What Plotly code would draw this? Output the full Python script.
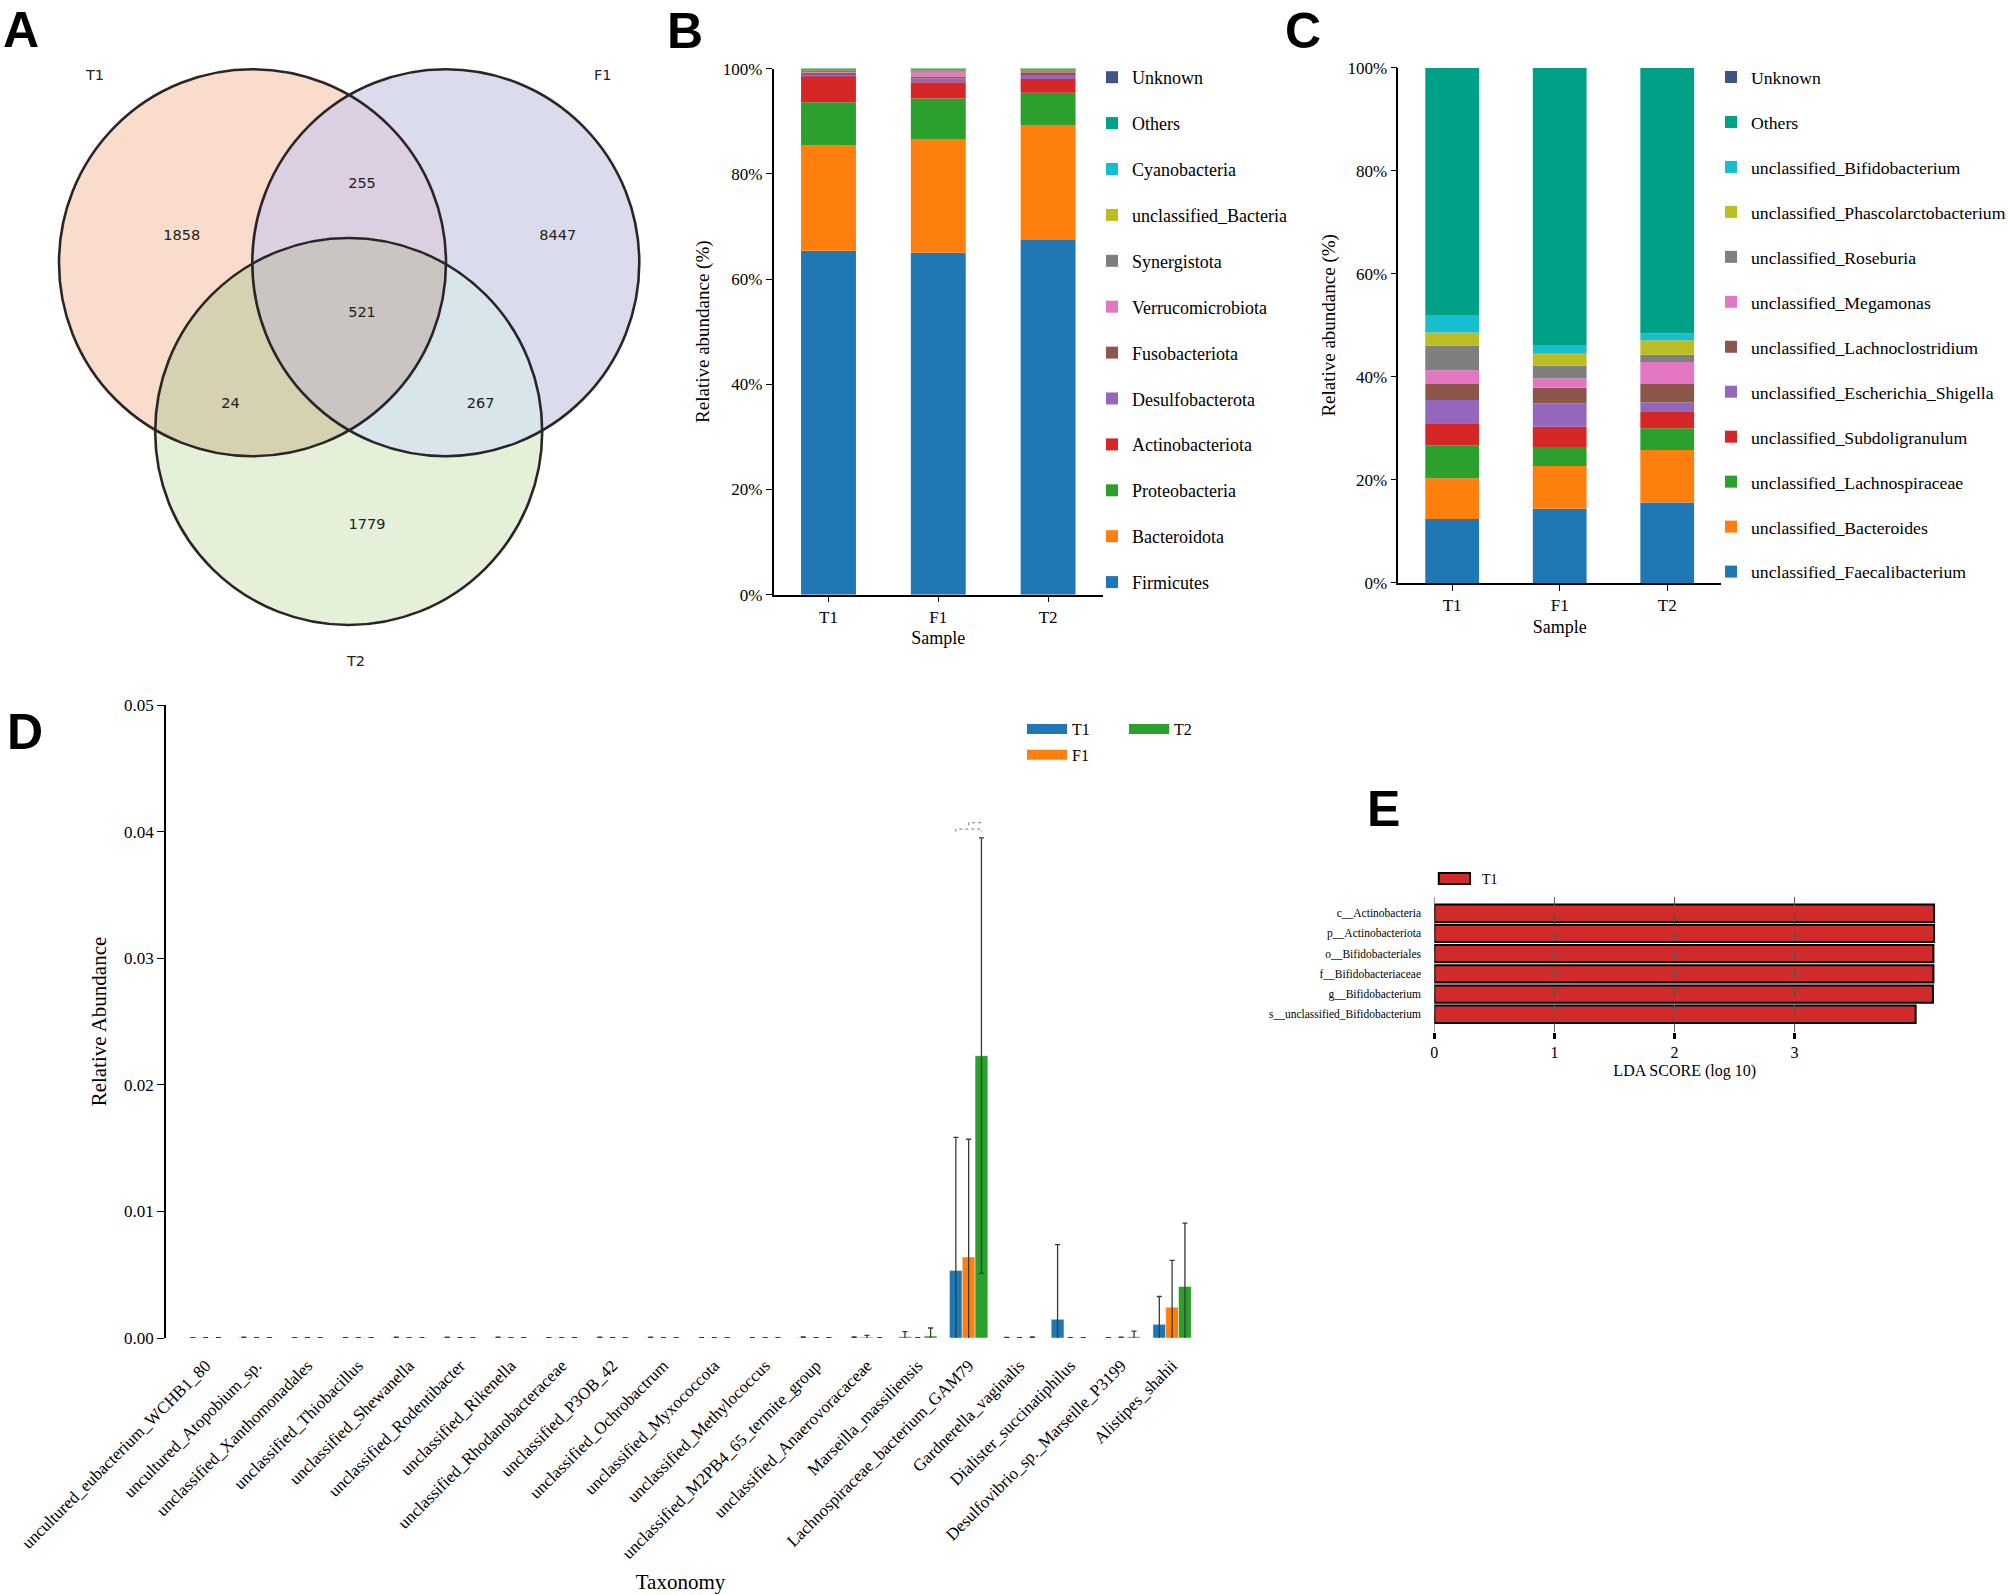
import numpy as np
import plotly.graph_objects as go

W, H = 2008, 1595
SERIF = "Liberation Serif"
SANS = "Liberation Sans"
VFONT = "DejaVu Sans"

# ---------------- data ----------------
venn_set_names = ["T1", "F1", "T2"]
venn_regions = ["T1", "F1", "T2", "T1&F1", "T1&T2", "F1&T2", "T1&F1&T2"]
venn_counts = [1858, 8447, 1779, 255, 24, 267, 521]

samples = ["T1", "F1", "T2"]

phylum_taxa = ["Firmicutes", "Bacteroidota", "Proteobacteria", "Actinobacteriota",
               "Desulfobacterota", "Fusobacteriota", "Verrucomicrobiota", "Synergistota",
               "unclassified_Bacteria", "Cyanobacteria", "Others", "Unknown"]
phylum_T1 = [65.4, 20.0, 8.2, 5.0, 0.35, 0.30, 0.10, 0.45, 0.10, 0.05, 0.05, 0.0]
phylum_F1 = [65.0, 21.6, 7.7, 3.1, 0.70, 0.40, 1.00, 0.30, 0.10, 0.05, 0.05, 0.0]
phylum_T2 = [67.4, 21.9, 6.1, 2.6, 0.80, 0.50, 0.30, 0.20, 0.10, 0.05, 0.05, 0.0]

genus_taxa = ["unclassified_Faecalibacterium", "unclassified_Bacteroides",
              "unclassified_Lachnospiraceae", "unclassified_Subdoligranulum",
              "unclassified_Escherichia_Shigella", "unclassified_Lachnoclostridium",
              "unclassified_Megamonas", "unclassified_Roseburia",
              "unclassified_Phascolarctobacterium", "unclassified_Bifidobacterium",
              "Others", "Unknown"]
genus_T1 = [12.4, 7.9, 6.4, 4.3, 4.5, 3.1, 2.7, 4.8, 2.5, 3.4, 48.0, 0.0]
genus_F1 = [14.4, 8.3, 3.7, 3.9, 4.6, 3.0, 1.8, 2.5, 2.3, 1.7, 53.8, 0.0]
genus_T2 = [15.6, 10.2, 4.2, 3.3, 1.7, 3.6, 4.3, 1.4, 2.8, 1.3, 51.6, 0.0]

pct_ticks = [0, 20, 40, 60, 80, 100]
pct_labels = ["0%", "20%", "40%", "60%", "80%", "100%"]

species_taxa = ["uncultured_eubacterium_WCHB1_80", "uncultured_Atopobium_sp.",
                "unclassified_Xanthomonadales", "unclassified_Thiobacillus",
                "unclassified_Shewanella", "unclassified_Rodentibacter",
                "unclassified_Rikenella", "unclassified_Rhodanobacteraceae",
                "unclassified_P3OB_42", "unclassified_Ochrobactrum",
                "unclassified_Myxococcota", "unclassified_Methylococcus",
                "unclassified_M2PB4_65_termite_group", "unclassified_Anaerovoracaceae",
                "Marseilla_massiliensis", "Lachnospiraceae_bacterium_GAM79",
                "Gardnerella_vaginalis", "Dialister_succinatiphilus",
                "Desulfovibrio_sp._Marseille_P3199", "Alistipes_shahii"]
species_T1 = [0.00001, 0.00002, 0.00001, 0.00001, 0.00002, 0.00002, 0.00002, 0.00001,
              0.00002, 0.00002, 0.00001, 0.00001, 0.00003, 0.00003, 0.00010, 0.00534,
              0.00002, 0.00148, 0.00001, 0.00108]
species_F1 = [0.00002, 0.00001, 0.00002, 0.00002, 0.00001, 0.00001, 0.00001, 0.00002,
              0.00001, 0.00001, 0.00002, 0.00002, 0.00001, 0.00008, 0.00001, 0.00640,
              0.00001, 0.00001, 0.00003, 0.00243]
species_T2 = [0.00001, 0.00001, 0.00001, 0.00001, 0.00001, 0.00001, 0.00001, 0.00001,
              0.00001, 0.00001, 0.00001, 0.00001, 0.00001, 0.00001, 0.00016, 0.02230,
              0.00003, 0.00001, 0.00010, 0.00407]
species_sd_T1 = [0.00001, 0.00005, 0.00001, 0.00001, 0.00005, 0.00005, 0.00005, 0.00001,
                 0.00005, 0.00005, 0.00001, 0.00001, 0.00005, 0.00005, 0.00040, 0.01050,
                 0.00003, 0.00590, 0.00002, 0.00220]
species_sd_F1 = [0.00001, 0.00001, 0.00001, 0.00001, 0.00001, 0.00001, 0.00001, 0.00001,
                 0.00001, 0.00001, 0.00001, 0.00001, 0.00001, 0.00013, 0.00001, 0.00930,
                 0.00001, 0.00001, 0.00004, 0.00370]
species_sd_T2 = [0.00001, 0.00001, 0.00001, 0.00001, 0.00001, 0.00001, 0.00001, 0.00001,
                 0.00001, 0.00001, 0.00001, 0.00001, 0.00001, 0.00001, 0.00063, 0.01720,
                 0.00005, 0.00001, 0.00045, 0.00500]
sig_taxon = "Lachnospiraceae_bacterium_GAM79"
abund_ticks = [0, 0.01, 0.02, 0.03, 0.04, 0.05]

lefse_group = "T1"
lefse_features = ["c__Actinobacteria", "p__Actinobacteriota", "o__Bifidobacteriales",
                  "f__Bifidobacteriaceae", "g__Bifidobacterium",
                  "s__unclassified_Bifidobacterium"]
lefse_scores = [4.164, 4.164, 4.156, 4.156, 4.152, 4.008]
lda_ticks = [0, 1, 2, 3]

# ---------------- styles ----------------
TAB = {"blue": "#1f77b4", "orange": "#ff7f0e", "green": "#2ca02c", "red": "#d62728",
       "purple": "#9467bd", "brown": "#8c564b", "pink": "#e377c2", "gray": "#7f7f7f",
       "olive": "#bcbd22", "cyan": "#17becf", "teal": "#00a087", "navy": "#3c5488"}
stack_colors = [TAB[k] for k in ["blue", "orange", "green", "red", "purple", "brown",
                                  "pink", "gray", "olive", "cyan", "teal", "navy"]]
group_colors = {"T1": TAB["blue"], "F1": TAB["orange"], "T2": TAB["green"]}
LEFSE_RED = "#d02a2a"


def dom_x(a, b):
    return [a / W, b / W]


def dom_y(top, bottom):
    return [1 - bottom / H, 1 - top / H]


fig = go.Figure()

# ---------------- A: Venn ----------------
venn_circles = {"T1": (252.5, 262.7), "F1": (445.8, 262.7), "T2": (348.7, 431.5)}
venn_r = 193.5
venn_region_color = {"T1": "#f9dccc", "F1": "#dadbed", "T2": "#e5f0d9",
                     "T1&F1": "#dccfe2", "T1&T2": "#d6d1b1", "F1&T2": "#d8e6ec",
                     "T1&F1&T2": "#cac5c2"}
venn_set_label_pos = {"T1": (94.7, 74.6), "F1": (602.7, 74.6), "T2": (355.6, 661.3)}
venn_region_pos = {"T1": (181.8, 236.3), "F1": (557.7, 236.3), "T2": (367.0, 525.6),
                   "T1&F1": (362.0, 184.3), "T1&T2": (230.6, 404.2),
                   "F1&T2": (480.6, 404.2), "T1&F1&T2": (362.0, 313.0)}


def region_path(region):
    members = region.split("&")
    want = {s: (s in members) for s in venn_set_names}
    t = np.linspace(0, 2 * np.pi, 3600, endpoint=False)
    runs = []
    for s in venn_set_names:
        cx, cy = venn_circles[s]
        px_ = cx + venn_r * np.cos(t)
        py_ = cy + venn_r * np.sin(t)
        keep = np.ones_like(t, dtype=bool)
        for o in venn_set_names:
            if o == s:
                continue
            ox, oy = venn_circles[o]
            inside = np.hypot(px_ - ox, py_ - oy) < venn_r
            keep &= (inside == want[o])
        if not keep.any():
            continue
        idx = np.where(keep)[0]
        breaks = np.where(np.diff(idx) > 1)[0]
        segs = np.split(idx, breaks + 1)
        if len(segs) > 1 and segs[0][0] == 0 and segs[-1][-1] == len(t) - 1:
            segs[0] = np.concatenate([segs[-1], segs[0]])
            segs = segs[:-1]
        for sg in segs:
            runs.append(np.column_stack([px_[sg], py_[sg]]))
    chain = runs.pop(0)
    while runs:
        end = chain[-1]
        best, rev, bd = 0, False, 1e9
        for i, r in enumerate(runs):
            d0 = np.hypot(*(r[0] - end))
            d1 = np.hypot(*(r[-1] - end))
            if d0 < bd:
                best, rev, bd = i, False, d0
            if d1 < bd:
                best, rev, bd = i, True, d1
        r = runs.pop(best)
        chain = np.vstack([chain, r[::-1] if rev else r])
    pts = " L".join("%.2f,%.2f" % (a, b) for a, b in chain[::3])
    return "M" + pts + " Z"


shapes = []
for reg in venn_regions:
    shapes.append(dict(type="path", xref="x", yref="y", path=region_path(reg),
                       fillcolor=venn_region_color[reg], line=dict(width=0.6,
                       color=venn_region_color[reg]), layer="below"))
for s in venn_set_names:
    cx, cy = venn_circles[s]
    shapes.append(dict(type="circle", xref="x", yref="y", x0=cx - venn_r, x1=cx + venn_r,
                       y0=cy - venn_r, y1=cy + venn_r, fillcolor="rgba(0,0,0,0)",
                       line=dict(width=2.6, color="#2a2626"), layer="below"))

fig.add_trace(go.Scatter(
    x=[venn_region_pos[r][0] for r in venn_regions],
    y=[venn_region_pos[r][1] for r in venn_regions],
    text=[str(c) for c in venn_counts], mode="text",
    textfont=dict(family=VFONT, size=14.5, color="#222"),
    xaxis="x", yaxis="y", showlegend=False, hoverinfo="skip"))

annotations = []
for s in venn_set_names:
    px_, py_ = venn_set_label_pos[s]
    annotations.append(dict(x=px_, y=py_, xref="x", yref="y", text=s, showarrow=False,
                            font=dict(family=VFONT, size=14.5, color="#222")))


# ---------------- B & C: stacked bars ----------------
def add_stack(taxa, t1, f1, t2, xa, ya, legend, og):
    vals = np.array([t1, f1, t2])  # samples x taxa
    base = np.cumsum(vals, axis=1) - vals
    n = len(taxa)
    for i, name in enumerate(taxa):
        fig.add_trace(go.Bar(
            x=samples, y=vals[:, i], base=base[:, i], name=name,
            marker=dict(color=stack_colors[i], line=dict(width=0)),
            width=0.5, offsetgroup=og, xaxis=xa, yaxis=ya,
            legend=legend, legendgroup=og + name, legendrank=n - i, hoverinfo="skip"))


add_stack(phylum_taxa, phylum_T1, phylum_F1, phylum_T2, "x2", "y2", "legend", "b")
add_stack(genus_taxa, genus_T1, genus_F1, genus_T2, "x3", "y3", "legend2", "c")

# ---------------- D: grouped bars ----------------
BARGAP = 0.245
xs = np.arange(len(species_taxa))
d_series = [("T1", species_T1, species_sd_T1), ("F1", species_F1, species_sd_F1),
            ("T2", species_T2, species_sd_T2)]
for g, m, sd in d_series:
    fig.add_trace(go.Bar(
        x=xs, y=m, name=g, marker=dict(color=group_colors[g],
                                       line=dict(width=0.6, color="rgba(255,255,255,0.8)")),
        error_y=dict(type="data", array=sd, visible=True, color="#3a3a3a",
                     thickness=1.3, width=2.5),
        xaxis="x4", yaxis="y4", showlegend=False, legendgroup="d" + g,
        hoverinfo="skip"))
for g, leg in [("T1", "legend3"), ("F1", "legend3"), ("T2", "legend4")]:
    fig.add_trace(go.Scatter(x=[None], y=[None], mode="lines", name=g,
                             line=dict(color=group_colors[g], width=12),
                             xaxis="x4", yaxis="y4", legend=leg, legendgroup="d" + g))

# significance brackets (derived from bar geometry and error bars)
bw = (1 - BARGAP) / 3
k = species_taxa.index(sig_taxon)
top = max(species_T1[k] + species_sd_T1[k], species_F1[k] + species_sd_F1[k],
          species_T2[k] + species_sd_T2[k])
y_lo, y_hi, tick = top + 0.00070, top + 0.00120, 0.00020
for (xa_, xb_, yy) in [(k - bw, k + bw, y_lo), (k, k + bw, y_hi)]:
    fig.add_trace(go.Scatter(x=[xa_, xa_, xb_, xb_], y=[yy - tick, yy, yy, yy - tick],
                             mode="lines", line=dict(color="#777", width=1, dash="dot"),
                             xaxis="x4", yaxis="y4", showlegend=False, hoverinfo="skip"))

# ---------------- E: LEfSe ----------------
fig.add_trace(go.Bar(
    x=lefse_scores, y=list(range(len(lefse_features))), orientation="h",
    name=lefse_group, width=0.86,
    marker=dict(color=LEFSE_RED, line=dict(color="black", width=2)),
    xaxis="x5", yaxis="y5", showlegend=False, hoverinfo="skip"))
for tv in lda_ticks:
    shapes.append(dict(type="line", xref="x5", yref="y5 domain", x0=tv, x1=tv, y0=0, y1=1,
                       line=dict(color="#555", width=1, dash="dash"), layer="above"))
shapes.append(dict(type="rect", xref="paper", yref="paper",
                   x0=1438.8 / W, x1=1470 / W, y0=1 - 884 / H, y1=1 - 873 / H,
                   fillcolor=LEFSE_RED, line=dict(color="black", width=2)))
annotations.append(dict(x=1480 / W, y=1 - 879 / H, xref="paper", yref="paper",
                        text=lefse_group, showarrow=False, xanchor="left", yanchor="middle",
                        font=dict(family=SERIF, size=14, color="black")))

# ---------------- panel letters ----------------
for letter, lx, ly in [("A", 1, 0), ("B", 665, 1.5), ("C", 1283, 1), ("D", 5, 702),
                       ("E", 1365, 779)]:
    annotations.append(dict(x=lx / W, y=1 - ly / H, xref="paper", yref="paper",
                            text="<b>%s</b>" % letter, showarrow=False, xanchor="left",
                            yanchor="top",
                            font=dict(family=SANS, size=50, color="black")))

# ---------------- layout ----------------
axis_font = dict(family=SERIF, size=17, color="black")
common_line = dict(showline=True, linecolor="black", linewidth=1.5, ticks="outside",
                   ticklen=6, tickwidth=1.3, tickcolor="black", zeroline=False,
                   showgrid=False, automargin=False)

fig.update_layout(
    width=W, height=H, template="none", barmode="group", bargap=BARGAP, bargroupgap=0,
    margin=dict(l=0, r=0, t=0, b=0, autoexpand=False),
    paper_bgcolor="white", plot_bgcolor="rgba(0,0,0,0)",
    shapes=shapes, annotations=annotations,
    xaxis=dict(domain=dom_x(0, 700), range=[0, 700], visible=False, anchor="y"),
    yaxis=dict(domain=dom_y(0, 700), range=[700, 0], visible=False, anchor="x"),
    xaxis2=dict(domain=dom_x(773.6, 1103), anchor="y2", range=[-0.5, 2.5], type="category",
                tickfont=axis_font,
                title=dict(text="Sample", font=dict(family=SERIF, size=18, color="black"),
                           standoff=6), **common_line),
    yaxis2=dict(domain=dom_y(68.6, 594.7), anchor="x2", range=[0, 100],
                tickvals=pct_ticks, ticktext=pct_labels, tickfont=axis_font,
                title=dict(text="Relative abundance (%)",
                           font=dict(family=SERIF, size=19, color="black"), standoff=8),
                **common_line),
    xaxis3=dict(domain=dom_x(1398.4, 1721), anchor="y3", range=[-0.5, 2.5], type="category",
                tickfont=axis_font,
                title=dict(text="Sample", font=dict(family=SERIF, size=18, color="black"),
                           standoff=6), **common_line),
    yaxis3=dict(domain=dom_y(67.8, 582.9), anchor="x3", range=[0, 100],
                tickvals=pct_ticks, ticktext=pct_labels, tickfont=axis_font,
                title=dict(text="Relative abundance (%)",
                           font=dict(family=SERIF, size=19, color="black"), standoff=7),
                **common_line),
    xaxis4=dict(domain=dom_x(166, 1195), anchor="y4", range=[-0.78, 19.45],
                tickvals=list(xs), ticktext=species_taxa, tickangle=-45,
                tickfont=dict(family=SERIF, size=17, color="black"),
                showline=False, ticks="outside", ticklen=10, tickcolor="rgba(0,0,0,0)",
                zeroline=False, showgrid=False, automargin=False,
                title=dict(text="Taxonomy", font=dict(family=SERIF, size=21, color="black"),
                           standoff=12)),
    yaxis4=dict(domain=dom_y(705, 1338), anchor="x4", range=[0, 0.05],
                tickvals=abund_ticks, tickformat=".2f",
                tickfont=axis_font,
                title=dict(text="Relative Abundance",
                           font=dict(family=SERIF, size=21, color="black"), standoff=12),
                showline=True, linecolor="black", linewidth=1.5, ticks="outside",
                ticklen=7, tickwidth=1.3, tickcolor="black", zeroline=False,
                showgrid=False, automargin=False),
    xaxis5=dict(domain=dom_x(1434.3, 1935.1), anchor="y5", range=[0, 4.17],
                tickvals=lda_ticks, tickfont=dict(family=SERIF, size=16, color="black"),
                showline=False, ticks="outside", ticklen=6, tickwidth=2.5,
                tickcolor="black", zeroline=False, showgrid=False, automargin=False,
                title=dict(text="LDA SCORE (log 10)",
                           font=dict(family=SERIF, size=16, color="black"), standoff=4)),
    yaxis5=dict(domain=dom_y(893, 1032), anchor="x5", range=[5.876, -1.0],
                tickvals=list(range(len(lefse_features))), ticktext=lefse_features,
                tickfont=dict(family=SERIF, size=11.5, color="black"),
                showline=False, ticks="outside", ticklen=10, tickcolor="rgba(0,0,0,0)",
                zeroline=False, showgrid=False, automargin=False),
    legend=dict(x=1092 / W, y=1 - 59 / H, xanchor="left", yanchor="top",
                font=dict(family=SERIF, size=18, color="black"),
                traceorder="grouped", tracegroupgap=19.5,
                bgcolor="rgba(0,0,0,0)"),
    legend2=dict(x=1711 / W, y=1 - 59 / H, xanchor="left", yanchor="top",
                 font=dict(family=SERIF, size=17.7, color="black"),
                 traceorder="grouped", tracegroupgap=18.95,
                 bgcolor="rgba(0,0,0,0)"),
    legend3=dict(x=1022 / W, y=1 - 712 / H, xanchor="left", yanchor="top",
                 font=dict(family=SERIF, size=16, color="black"), tracegroupgap=2,
                 itemwidth=40, bgcolor="rgba(0,0,0,0)"),
    legend4=dict(x=1124 / W, y=1 - 712 / H, xanchor="left", yanchor="top",
                 font=dict(family=SERIF, size=16, color="black"), tracegroupgap=2,
                 itemwidth=40, bgcolor="rgba(0,0,0,0)"),
)

fig.write_html("out.html", config={"displayModeBar": False},
               post_script="document.body.style.margin='0';")
